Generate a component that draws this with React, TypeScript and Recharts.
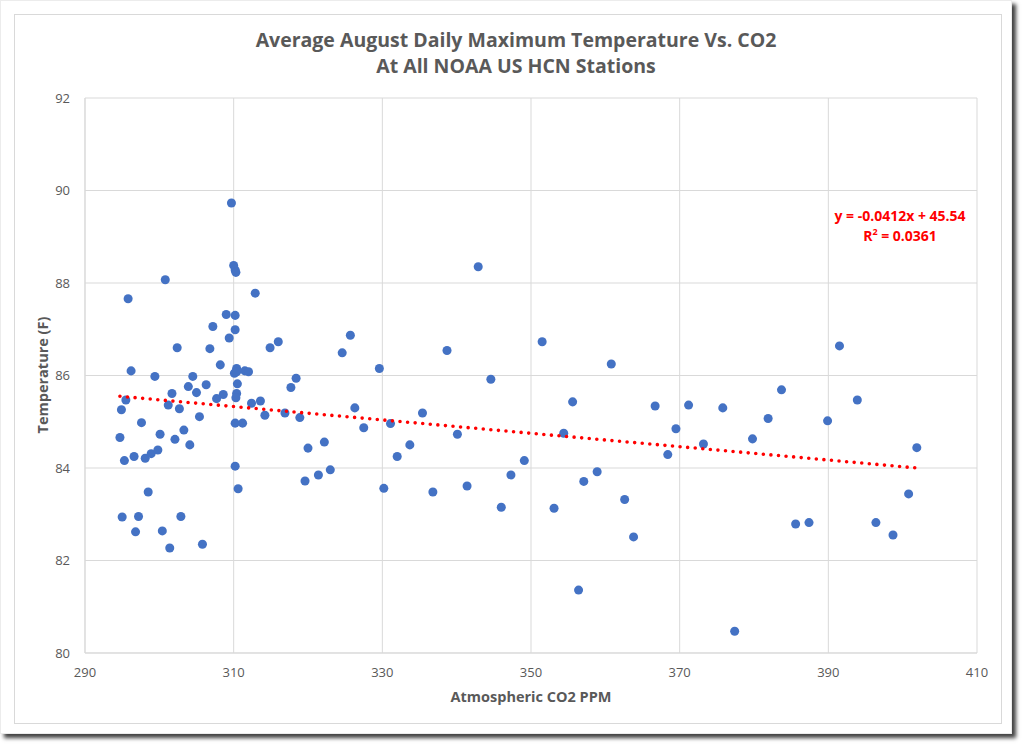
import React from "react";
import {
  ScatterChart,
  Scatter,
  XAxis,
  YAxis,
  ZAxis,
  CartesianGrid,
} from "recharts";

// Atmospheric CO2 (ppm) and average August max temperature (F)
const co2 = [
  309.7, 310.0, 310.2, 310.3, 300.8, 295.8, 312.9, 309.0, 310.2, 307.2,
  310.2, 309.4, 302.4, 306.8, 314.9, 316.0, 308.2, 296.2, 310.4, 310.1,
  310.4, 311.5, 312.0, 299.4, 304.5, 318.4, 306.3, 303.9, 310.5, 317.7,
  305.0, 301.7, 308.6, 310.4, 307.7, 310.3, 295.5, 301.2, 302.7, 294.9,
  312.4, 313.6, 314.2, 316.9, 318.9, 305.4, 297.6, 310.2, 311.2, 294.7,
  300.1, 303.3, 302.1, 304.1, 295.3, 296.6, 298.1, 298.9, 299.8, 310.2,
  320.0, 322.2, 319.6, 321.4, 323.0, 310.6, 298.5, 295.0, 297.2, 302.9,
  296.8, 300.4, 301.4, 305.8,
  342.9, 325.7, 324.6, 329.6, 338.7, 351.5, 360.8, 344.6, 326.3, 355.6,
  335.4, 327.5, 331.1, 340.1, 354.4, 332.0, 333.7, 330.2, 336.8, 341.4,
  346.0, 347.3, 349.1, 353.1, 357.1, 358.9, 362.6, 363.8, 356.4,
  391.5, 383.7, 366.7, 371.2, 375.8, 393.9, 369.5, 381.9, 389.9, 373.2,
  368.4, 379.8, 401.9, 385.6, 387.4, 396.4, 398.7, 400.8, 377.4,
];

const temperature = [
  89.73, 88.38, 88.28, 88.23, 88.07, 87.66, 87.78, 87.32, 87.3, 87.06,
  86.99, 86.81, 86.6, 86.58, 86.6, 86.73, 86.23, 86.1, 86.15, 86.05,
  86.08, 86.1, 86.08, 85.98, 85.98, 85.94, 85.8, 85.76, 85.82, 85.74,
  85.63, 85.61, 85.59, 85.61, 85.5, 85.52, 85.47, 85.36, 85.28, 85.26,
  85.4, 85.45, 85.14, 85.19, 85.09, 85.11, 84.98, 84.97, 84.97, 84.66,
  84.73, 84.82, 84.62, 84.5, 84.16, 84.25, 84.21, 84.31, 84.39, 84.04,
  84.43, 84.56, 83.72, 83.85, 83.96, 83.55, 83.48, 82.94, 82.95, 82.95,
  82.62, 82.64, 82.27, 82.35,
  88.35, 86.87, 86.49, 86.15, 86.54, 86.73, 86.25, 85.92, 85.3, 85.43,
  85.19, 84.87, 84.96, 84.73, 84.75, 84.25, 84.5, 83.56, 83.48, 83.61,
  83.15, 83.85, 84.16, 83.13, 83.71, 83.92, 83.32, 82.51, 81.36,
  86.64, 85.69, 85.34, 85.36, 85.3, 85.47, 84.85, 85.07, 85.02, 84.52,
  84.29, 84.63, 84.44, 82.79, 82.82, 82.82, 82.55, 83.44, 80.47,
];

// linear trendline end points
const trendX = [294.7, 401.9];
const trendY = [85.55, 84.0];

const xTicks = [290, 310, 330, 350, 370, 390, 410];
const yTicks = [80, 82, 84, 86, 88, 90, 92];

const FONT = "'Open Sans', 'Liberation Sans', sans-serif";
const GRAY = "#595959";

const App: React.FC = () => {
  const points = co2.map((x, i) => ({ x, y: temperature[i] }));
  const trend = trendX.map((x, i) => ({ x, y: trendY[i] }));

  return (
    <div
      style={{
        position: "absolute",
        left: 0,
        top: 0,
        width: 1012,
        height: 734,
        background: "#fff",
        border: "1px solid #ececec",
        boxSizing: "border-box",
        boxShadow: "4px 4px 4px rgba(0,0,0,0.75)",
        fontFamily: FONT,
      }}
    >
      <div
        style={{
          position: "absolute",
          left: 13,
          top: 13,
          width: 988,
          height: 710,
          border: "1px solid #d9d9d9",
          boxSizing: "border-box",
        }}
      >
        <ScatterChart
          width={986}
          height={708}
          margin={{ top: 83, right: 24, bottom: 20, left: 0 }}
        >
          <CartesianGrid stroke="#d9d9d9" strokeWidth={1} />
          <XAxis
            type="number"
            dataKey="x"
            domain={[290, 410]}
            ticks={xTicks}
            height={50}
            axisLine={{ stroke: "#d9d9d9" }}
            tickLine={false}
            tickSize={0}
            tickMargin={15}
            tick={{ fill: GRAY, fontSize: 13, fontFamily: FONT }}
          />
          <YAxis
            type="number"
            dataKey="y"
            domain={[80, 92]}
            ticks={yTicks}
            width={70}
            axisLine={{ stroke: "#d9d9d9" }}
            tickLine={false}
            tickSize={0}
            tickMargin={15}
            tick={{ fill: GRAY, fontSize: 13, fontFamily: FONT }}
          />
          <ZAxis range={[42, 42]} />
          <Scatter
            data={points}
            fill="#4472C4"
            isAnimationActive={false}
          />
          <Scatter
            data={trend}
            line={{
              stroke: "#ff0000",
              strokeWidth: 3.6,
              strokeDasharray: "0 7.6",
              strokeLinecap: "round",
            }}
            shape={() => <g />}
            isAnimationActive={false}
          />
        </ScatterChart>
      </div>

      {/* chart title */}
      <div
        style={{
          position: "absolute",
          left: 0,
          width: 1030,
          top: 26,
          textAlign: "center",
          color: GRAY,
          fontSize: 19.5,
          fontWeight: 700,
          lineHeight: "26px",
        }}
      >
        Average August Daily Maximum Temperature Vs. CO2
        <br />
        At All NOAA US HCN Stations
      </div>

      {/* axis titles */}
      <div
        style={{
          position: "absolute",
          left: 330,
          width: 400,
          top: 686,
          textAlign: "center",
          color: GRAY,
          fontSize: 14.5,
          fontWeight: 700,
        }}
      >
        Atmospheric CO2 PPM
      </div>
      <div
        style={{
          position: "absolute",
          left: 42 - 100,
          top: 374 - 10,
          width: 200,
          height: 20,
          lineHeight: "20px",
          textAlign: "center",
          color: GRAY,
          fontSize: 14.5,
          fontWeight: 700,
          transform: "rotate(-90deg)",
        }}
      >
        Temperature (F)
      </div>

      {/* trendline label */}
      <div
        style={{
          position: "absolute",
          left: 799,
          width: 200,
          top: 205,
          textAlign: "center",
          color: "#ff0000",
          fontSize: 14,
          fontWeight: 700,
          lineHeight: "20px",
        }}
      >
        y = -0.0412x + 45.54
        <br />
        R<sup style={{ fontSize: 9, lineHeight: 0 }}>2</sup> = 0.0361
      </div>
    </div>
  );
};

export default App;
